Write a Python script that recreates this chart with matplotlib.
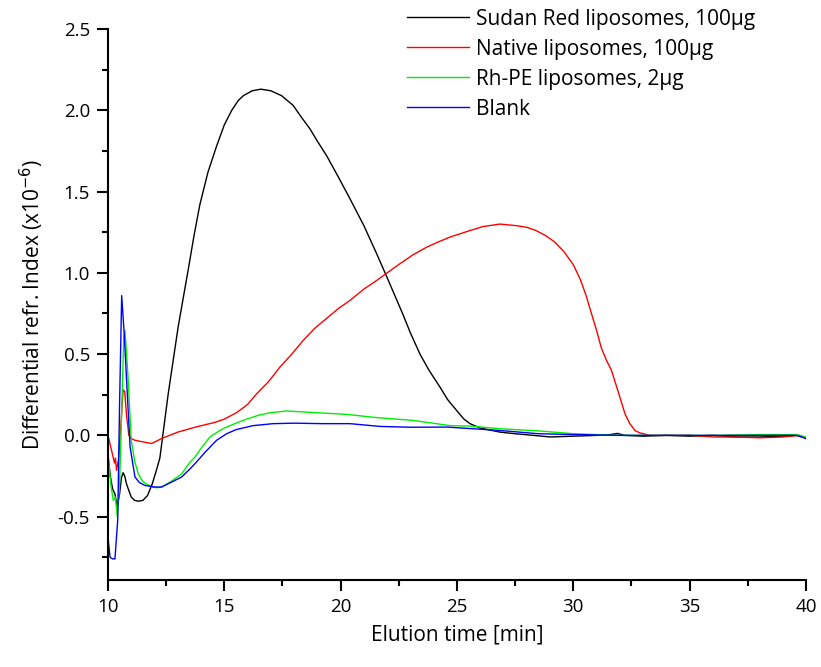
import matplotlib
matplotlib.use('Agg')
import matplotlib.pyplot as plt
from matplotlib.ticker import MultipleLocator

# Sudan Red liposomes, 100ug
sudan_t = [10.0, 10.1, 10.2, 10.3, 10.4, 10.5, 10.58, 10.65, 10.72, 10.8, 11.0, 11.15, 11.3,
           11.5, 11.7, 11.9, 12.05, 12.23, 12.59, 13.02, 13.45, 13.7, 13.95, 14.3, 14.67,
           15.0, 15.32, 15.6, 15.82, 16.2, 16.57, 17.0, 17.46, 17.96, 18.3, 18.68, 19.0,
           19.4, 19.9, 20.4, 21.0, 21.55, 22.0, 22.69, 23.0, 23.41, 23.8, 24.27, 24.6,
           24.98, 25.3, 25.56, 26.0, 26.85, 27.5, 28.28, 29.0, 30.0, 31.0, 31.6, 31.9,
           32.2, 33.0, 34.0, 35.0, 36.0, 37.0, 38.0, 39.0, 39.6, 40.0]
sudan_v = [-0.12, -0.25, -0.33, -0.36, -0.44, -0.36, -0.26, -0.23, -0.25, -0.30, -0.38, -0.40,
           -0.405, -0.40, -0.37, -0.30, -0.23, -0.14, 0.256, 0.67, 1.02, 1.23, 1.42, 1.62,
           1.78, 1.91, 2.00, 2.06, 2.09, 2.12, 2.13, 2.12, 2.09, 2.03, 1.96, 1.886, 1.81,
           1.72, 1.59, 1.456, 1.29, 1.117, 0.97, 0.74, 0.63, 0.50, 0.40, 0.297, 0.22,
           0.154, 0.10, 0.072, 0.045, 0.02, 0.01, 0.0, -0.01, -0.005, 0.0, 0.005, 0.012,
           0.0, -0.005, 0.0, -0.005, 0.0, -0.01, -0.01, -0.005, 0.0, -0.015]

# Native liposomes, 100ug
native_t = [10.0, 10.1, 10.2, 10.28, 10.32, 10.37, 10.45, 10.55, 10.65, 10.72, 10.8, 10.9,
            11.0, 11.16, 11.5, 11.88, 12.3, 13.0, 13.74, 14.6, 15.0, 15.53, 16.0, 16.39,
            16.9, 17.39, 17.9, 18.39, 18.9, 19.4, 19.9, 20.4, 21.0, 21.55, 22.0, 22.55,
            23.1, 23.7, 24.2, 24.7, 25.56, 26.13, 26.85, 27.56, 28.0, 28.4, 28.8, 29.2,
            29.6, 30.0, 30.3, 30.55, 30.8, 31.0, 31.2, 31.43, 31.64, 31.86, 32.0, 32.22,
            32.43, 32.65, 32.86, 33.3, 34.0, 35.0, 36.0, 37.0, 38.0, 39.0, 39.7, 40.0]
native_v = [0.0, -0.06, -0.12, -0.17, -0.14, -0.215, -0.15, 0.05, 0.28, 0.27, 0.12, 0.0,
            -0.02, -0.03, -0.04, -0.05, -0.02, 0.02, 0.05, 0.08, 0.10, 0.14, 0.19, 0.256,
            0.33, 0.42, 0.50, 0.584, 0.66, 0.72, 0.78, 0.83, 0.90, 0.953, 1.00, 1.056,
            1.11, 1.158, 1.19, 1.22, 1.26, 1.285, 1.30, 1.29, 1.28, 1.26, 1.23, 1.19,
            1.13, 1.05, 0.96, 0.86, 0.74, 0.646, 0.54, 0.46, 0.40, 0.30, 0.236, 0.133,
            0.072, 0.03, 0.015, 0.0, 0.0, 0.0, -0.01, -0.01, -0.015, -0.01, 0.0, -0.015]

# Rh-PE liposomes, 2ug
rhpe_t = [10.0, 10.12, 10.23, 10.32, 10.4, 10.5, 10.6, 10.68, 10.73, 10.8, 10.87, 11.0,
          11.15, 11.3, 11.5, 11.88, 12.1, 12.3, 12.7, 13.17, 13.5, 13.74, 14.0, 14.38,
          14.7, 15.0, 15.5, 15.96, 16.5, 17.0, 17.68, 18.54, 20.26, 21.5, 23.12, 24.7,
          25.56, 26.85, 28.56, 30.0, 31.86, 34.0, 36.0, 38.0, 39.6, 40.0]
rhpe_v = [-0.11, -0.30, -0.40, -0.38, -0.50, -0.30, 0.20, 0.60, 0.646, 0.50, 0.34, -0.03,
          -0.16, -0.236, -0.285, -0.318, -0.322, -0.318, -0.285, -0.236, -0.17, -0.133, -0.08,
          -0.01, 0.02, 0.045, 0.075, 0.10, 0.125, 0.14, 0.15, 0.143, 0.129, 0.11, 0.092,
          0.06, 0.057, 0.041, 0.027, 0.01, 0.0, 0.0, 0.0, 0.005, 0.005, -0.01]

# Blank
blank_t = [10.0, 10.09, 10.2, 10.3, 10.42, 10.5, 10.59, 10.7, 10.8, 10.95, 11.16, 11.35,
           11.59, 12.0, 12.3, 12.7, 13.17, 13.5, 13.74, 14.2, 14.67, 15.1, 15.5, 16.24,
           17.1, 18.0, 19.25, 20.4, 21.7, 23.0, 24.56, 26.85, 28.5, 30.0, 32.0, 34.0,
           36.0, 38.0, 39.6, 40.0]
blank_v = [-0.625, -0.75, -0.76, -0.76, -0.52, 0.20, 0.86, 0.62, 0.34, -0.07, -0.256, -0.29,
           -0.308, -0.318, -0.318, -0.29, -0.256, -0.21, -0.174, -0.10, -0.03, 0.01, 0.035,
           0.06, 0.072, 0.075, 0.072, 0.072, 0.055, 0.05, 0.051, 0.03, 0.01, 0.005,
           0.0, 0.0, 0.0, 0.0, 0.0, -0.02]

series = [
    (sudan_t, sudan_v, 'black', 'Sudan Red liposomes, 100\u00b5g'),
    (native_t, native_v, '#ff0000', 'Native liposomes, 100\u00b5g'),
    (rhpe_t, rhpe_v, '#00ee00', 'Rh-PE liposomes, 2\u00b5g'),
    (blank_t, blank_v, '#0000ff', 'Blank'),
]

plt.rcParams['font.family'] = ['Open Sans', 'DejaVu Sans']

fig = plt.figure(figsize=(8.21, 6.67), dpi=100)
ax = fig.add_axes([0.1315, 0.1304, 0.8502, 0.8261])

for t, v, c, lab in series:
    ax.plot(t, v, color=c, lw=1.0, label=lab)

ax.set_xlim(10, 40)
ax.set_ylim(-0.89, 2.5)
ax.xaxis.set_major_locator(MultipleLocator(5))
ax.xaxis.set_minor_locator(MultipleLocator(2.5))
ax.yaxis.set_minor_locator(MultipleLocator(0.25))
ax.set_yticks([-0.5, 0.0, 0.5, 1.0, 1.5, 2.0, 2.5])
ax.set_yticklabels(['-0.5', '0.0', '0.5', '1.0', '1.5', '2.0', '2.5'])

for s in ['top', 'right']:
    ax.spines[s].set_visible(False)
for s in ['left', 'bottom']:
    ax.spines[s].set_linewidth(1.5)

ax.tick_params(which='major', direction='out', length=8, width=1.5, labelsize=13.5, pad=5)
ax.tick_params(which='minor', direction='out', length=4, width=1.5)

ax.set_xlabel('Elution time [min]', fontsize=15, labelpad=6)
ax.set_ylabel('Differential refr. Index (x10$^{\\mathsf{-6}}$)', fontsize=15, labelpad=8)

fig.legend(loc='upper left', bbox_to_anchor=(0.4957, 0.987), frameon=False,
           fontsize=15, handlelength=3.0, handletextpad=0.33, labelspacing=0.43,
           borderaxespad=0.0, borderpad=0.0)

fig.savefig('out.png', dpi=100, facecolor='white')
